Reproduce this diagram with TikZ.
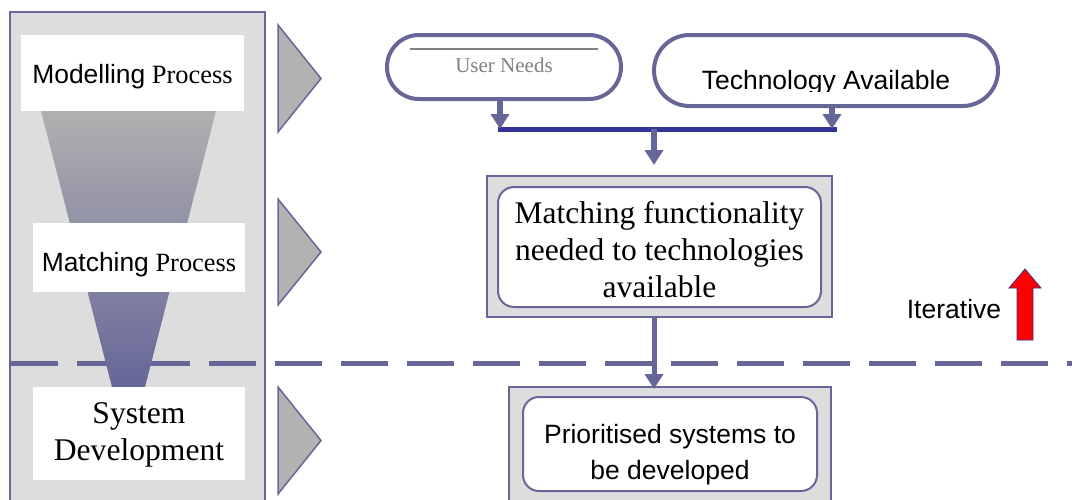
\documentclass[tikz,border=0pt]{standalone}
\usepackage{fontspec}
\setmainfont{Liberation Serif}
\newfontfamily\arialfont{Liberation Sans}
\usetikzlibrary{arrows.meta}
\definecolor{slate}{RGB}{102,102,153}
\definecolor{barblue}{RGB}{51,51,153}
\definecolor{panelgray}{RGB}{221,221,221}
\definecolor{markgray}{RGB}{178,178,178}
\definecolor{funneltop}{RGB}{176,176,176}
\begin{document}
\begin{tikzpicture}[x=1pt,y=-1pt,
	panel/.style={fill=panelgray,draw=slate,line width=2pt},
	whitelabel/.style={fill=white,inner sep=0pt,minimum width=212pt,anchor=base},
	marker/.style={fill=markgray,draw=slate,line width=1.5pt},
	pill/.style={fill=white,draw=slate,line width=4pt,rounded corners=#1},
	boxframe/.style={fill=panelgray,draw=slate,line width=2pt},
	roundbox/.style={fill=white,draw=slate,line width=2pt,rounded corners=16pt,inner sep=0pt,anchor=base},
	flow/.style={draw=slate,line width=6pt,-{Triangle[width=18pt,length=15pt]}},
	dashline/.style={draw=slate,line width=5pt,dash pattern=on 47pt off 19pt}]
	% page size
	\clip (0,0) rectangle (1072,499);
	% left panel - must be drawn before the rest!
	\draw[panel] (10,12) rectangle (265,530);
	% iteration border
	\draw[dashline] (11,363) -- (1072,363);
	% funnel
	\shade[top color=funneltop,bottom color=slate] (41,111) -- (216,111) -- (145,387) -- (112,387) -- cycle;
	% stage labels
	\node[whitelabel,minimum width=223pt,text height=48pt,text depth=28pt,font=\fontsize{26.4}{31}\selectfont] (modlabel) at (132.5,83) {{\arialfont Modelling} Process};
	\node[whitelabel,text height=48pt,text depth=21pt,font=\fontsize{26.4}{31}\selectfont] (matchlabel) at (139,271) {{\arialfont Matching} Process};
	\node[whitelabel,text height=36pt,text depth=57pt,font=\fontsize{31.6}{37}\selectfont] (syslabel) at (139,423) {\begin{tabular}[t]{@{}c@{}}System\\Development\end{tabular}};
	% stage markers
	\foreach \ytop/\ybot in {25/132,199/305,387/494}
		\draw[marker] (278,\ytop) -- (321,{(\ytop+\ybot)/2}) -- (278,\ybot) -- cycle;
	% inputs
	\node[pill=32pt,minimum width=234pt,minimum height=64pt,text height=10pt,text depth=0pt,text=gray,font=\fontsize{21}{25}\selectfont] (user) at (504,67) {User Needs};
	\draw[gray,line width=2pt] (410,49) -- (598,49);
	\node[pill=35.5pt,minimum width=344pt,minimum height=71pt] (tech) at (826,70.5) {};
	\begin{scope}
		\clip (650,30) rectangle (1002,91);
		\node[inner sep=0pt,text height=37pt,text depth=0pt,font=\arialfont\fontsize{26.5}{32}\selectfont] (techtext) at (tech.center) {Technology Available};
	\end{scope}
	% joining bar
	\coordinate (barL) at (498,129);
	\coordinate (barR) at (837,129);
	\coordinate (joinU) at (500,129);
	\coordinate (joinT) at (832,129);
	\coordinate (joinM) at (654,129);
	\draw[barblue,line width=5pt] (barL) -- (barR);
	% matching
	\node[boxframe,minimum width=345pt,minimum height=141pt] (matchframe) at (659.5,246.5) {};
	\node[roundbox,minimum width=323pt,text height=36pt,text depth=84pt,font=\fontsize{31.5}{37}\selectfont] (match) at (659.5,223) {\begin{tabular}[t]{@{}c@{}}Matching functionality\\needed to technologies\\available\end{tabular}};
	% development
	\node[boxframe,minimum width=322pt,minimum height=128pt] (priorframe) at (670,451) {};
	\node[roundbox,minimum width=294pt,text height=46pt,text depth=48pt,font=\arialfont\fontsize{26.5}{36}\selectfont] (prior) at (670,443) {\begin{tabular}[t]{@{}c@{}}Prioritised systems to\\be developed\end{tabular}};
	% flows
	\draw[flow] (user.south -| joinU) -- (joinU);
	\draw[flow] (tech.south -| joinT) -- (joinT);
	\draw[flow,shorten >=10pt] (joinM) -- (matchframe.north -| joinM);
	\draw[flow,line width=5pt,shorten >=-3pt] (matchframe.south -| joinM) -- (priorframe.north -| joinM);
	% iterative
	\node[anchor=base,font=\arialfont\fontsize{26.5}{32}\selectfont] (iter) at (954,318) {Iterative};
	\draw[fill=red,draw=barblue,line width=0.8pt] (1017,340) -- (1017,288) -- (1009,288) -- (1025,269) -- (1041,288) -- (1033,288) -- (1033,340) -- cycle;
\end{tikzpicture}
\end{document}
